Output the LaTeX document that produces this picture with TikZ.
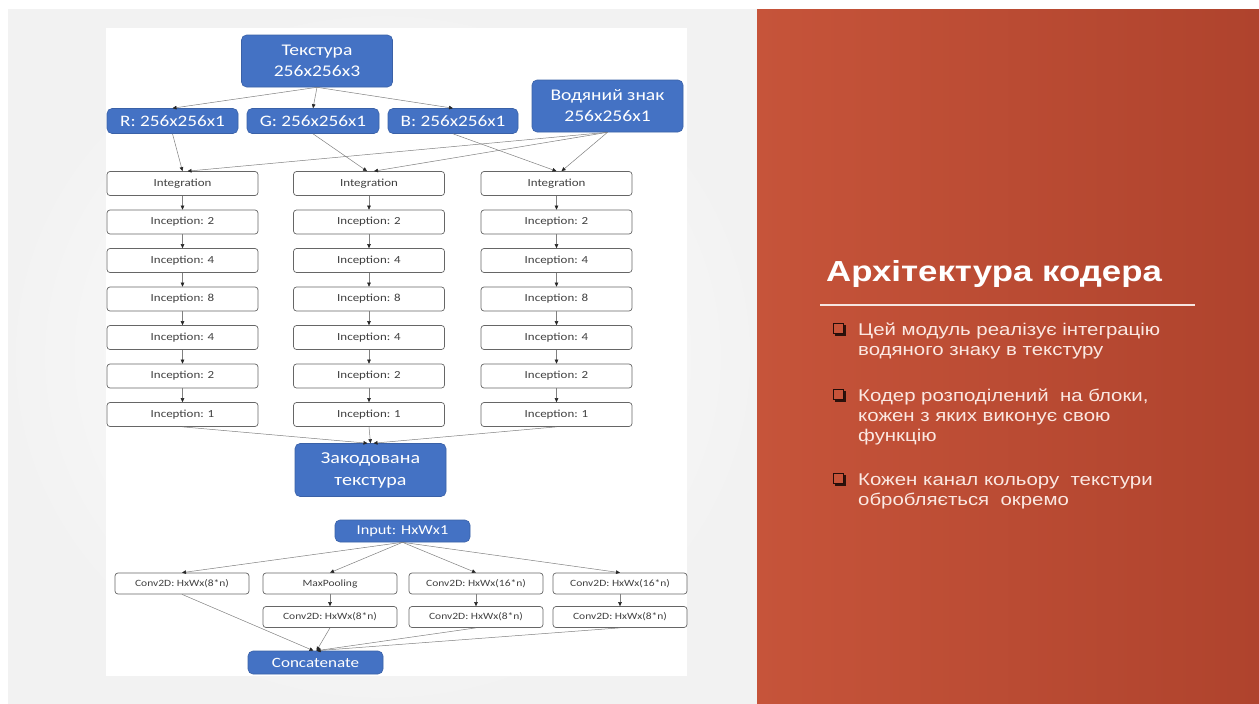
\documentclass[tikz,border=0pt]{standalone}
\usepackage{fontspec}
\setmainfont[FakeStretch=1.2]{Carlito}
\newfontfamily\arialf[FakeStretch=1.2]{Liberation Sans}
\usetikzlibrary{arrows.meta}
\definecolor{boxblue}{HTML}{4472C4}
\definecolor{orL}{HTML}{C6543A}
\definecolor{orR}{HTML}{AF432D}
\definecolor{bultxt}{HTML}{FBE8E2}
\begin{document}
\begin{tikzpicture}[x=1pt,y=-1pt,
  bluebox/.style={rounded corners=5pt, fill=boxblue, draw=boxblue!85!black, line width=0.6pt, text=white, align=center, inner sep=0pt},
  layer/.style={rounded corners=3pt, fill=white, draw=black!60, line width=0.7pt, text=black!75, minimum width=151pt, minimum height=24pt, inner sep=0pt, font=\fontsize{10.8}{13}\selectfont},
  convbox/.style={layer, minimum width=134pt, minimum height=21pt, font=\fontsize{9.6}{12}\selectfont},
  arr/.style={draw=black!50, line width=0.5pt, -{Triangle[length=4pt,width=3.6pt,color=black!85]}},
  bul/.style={font=\arialf\fontsize{17}{20}\selectfont, text=bultxt, align=left, inner sep=0pt, anchor=north west},
]
\useasboundingbox (0,0) rectangle (1259,704);
% backgrounds
\fill[white] (0,0) rectangle (1259,704);
\shade[inner color=white, outer color=black!5] (8,9) rectangle (757,704);
\shade[left color=orL, right color=orR] (757,9) rectangle (1259,704);
\fill[white] (106,28) rectangle (687,676);

% top blue nodes
\node[bluebox, minimum width=151pt, minimum height=52pt, font=\fontsize{16.3}{21}\selectfont] (tex) at (317,61) {Текстура\\256x256x3};
\node[bluebox, minimum width=131pt, minimum height=25pt, font=\fontsize{16}{19}\selectfont] (R) at (172.5,121) {R: 256x256x1};
\node[bluebox, minimum width=132pt, minimum height=25pt, font=\fontsize{16}{19}\selectfont] (G) at (313,121) {G: 256x256x1};
\node[bluebox, minimum width=130pt, minimum height=25pt, font=\fontsize{16}{19}\selectfont] (B) at (453,121) {B: 256x256x1};
\node[bluebox, minimum width=151pt, minimum height=52pt, font=\fontsize{16.3}{21}\selectfont] (wm) at (607.5,106) {Водяний знак\\256x256x1};

\draw[arr] (tex.south) -- (R.north);
\draw[arr] (tex.south) -- (G.north);
\draw[arr] (tex.south) -- (B.north);

% columns
\foreach \c/\x in {1/182.5, 2/369, 3/556.5} {
  \foreach \r/\y/\t in {0/183.5/Integration, 1/222/{Inception: 2}, 2/260.5/{Inception: 4}, 3/299/{Inception: 8}, 4/337.5/{Inception: 4}, 5/376/{Inception: 2}, 6/414.5/{Inception: 1}} {
    \node[layer] (n\c-\r) at (\x,\y) {\t};
  }
  \foreach \r [evaluate=\r as \s using int(\r+1)] in {0,...,5} {
    \draw[arr] (n\c-\r.south) -- (n\c-\s.north);
  }
}

\draw[arr] (R.south) -- (n1-0.north);
\draw[arr] (G.south) -- ([xshift=-2pt]n2-0.north);
\draw[arr] (B.south) -- (n3-0.north);
\draw[arr] (wm.south) -- ([xshift=5pt]n1-0.north);
\draw[arr] (wm.south) -- ([xshift=5pt]n2-0.north);
\draw[arr] (wm.south) -- ([xshift=5pt]n3-0.north);

% encoded
\node[bluebox, minimum width=151pt, minimum height=53pt, font=\fontsize{16.7}{22}\selectfont] (enc) at (370.5,470) {Закодована\\текстура};
\draw[arr] (n1-6.south) -- ([xshift=-3pt]enc.north);
\draw[arr] (n2-6.south) -- (enc.north);
\draw[arr] (n3-6.south) -- ([xshift=3pt]enc.north);

% inception module
\node[bluebox, minimum width=135pt, minimum height=22pt, font=\fontsize{13.6}{16}\selectfont] (inp) at (402.5,531) {Input: HxWx1};
\node[convbox] (c1) at (182,583.5) {Conv2D: HxWx(8*n)};
\node[convbox] (mp) at (330,583.5) {MaxPooling};
\node[convbox] (c3) at (476,583.5) {Conv2D: HxWx(16*n)};
\node[convbox] (c4) at (620,583.5) {Conv2D: HxWx(16*n)};
\node[convbox] (d2) at (330,617) {Conv2D: HxWx(8*n)};
\node[convbox] (d3) at (476,617) {Conv2D: HxWx(8*n)};
\node[convbox] (d4) at (620,617) {Conv2D: HxWx(8*n)};
\node[bluebox, minimum width=135pt, minimum height=23pt, font=\fontsize{14.2}{17}\selectfont] (cat) at (315.5,662.5) {Concatenate};

\foreach \n in {c1,mp,c3,c4} { \draw[arr] (inp.south) -- (\n.north); }
\draw[arr] (mp.south) -- (d2.north);
\draw[arr] (c3.south) -- (d3.north);
\draw[arr] (c4.south) -- (d4.north);
\draw[arr] (c1.south) -- ([xshift=-2pt]cat.north);
\draw[arr] (d2.south) -- ([xshift=1pt]cat.north);
\draw[arr] (d3.south) -- ([xshift=1pt]cat.north);
\draw[arr] (d4.south) -- ([xshift=1pt]cat.north);

% right panel
\node[anchor=base west, font=\arialf\bfseries\fontsize{29}{34}\selectfont, text=white, inner sep=0pt] (title) at (826,281) {Архітектура кодера};
\draw[white!85!orL, line width=2pt] (820,305) -- (1195,305);

\foreach \y in {329,395,479} {
  \fill[black!75!orR] (834.5,\y-4) rectangle ++(11,11);
  \filldraw[fill=orL, draw=black!80!orR, line width=0.8pt] (833,\y-6) rectangle ++(10,10);
}
\node[bul] (b1) at (858,322) {\rule{0pt}{13pt}Цей модуль реалізує інтеграцію\\водяного знаку в текстуру};
\node[bul] (b2) at (858,388) {\rule{0pt}{13pt}Кодер розподілений\ \ на блоки,\\кожен з яких виконує свою\\функцію};
\node[bul] (b3) at (858,472) {\rule{0pt}{13pt}Кожен канал кольору\ \ текстури\\обробляється\ \ окремо};
\end{tikzpicture}
\end{document}
